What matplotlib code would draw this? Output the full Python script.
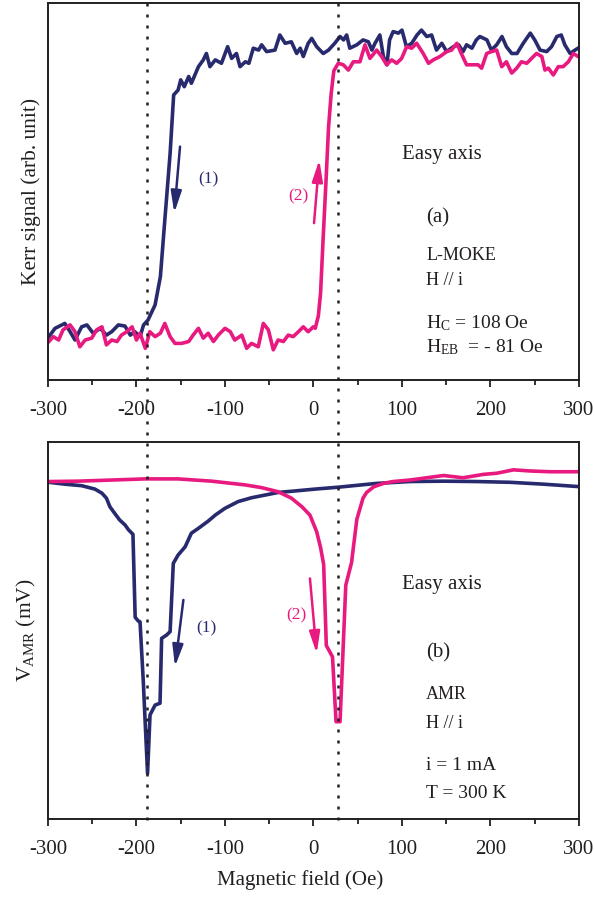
import matplotlib
matplotlib.use('Agg')
import matplotlib.pyplot as plt
from matplotlib.lines import Line2D
from matplotlib.transforms import blended_transform_factory
from matplotlib.ticker import MultipleLocator

plt.rcParams['font.family'] = ['Liberation Serif', 'DejaVu Serif']
plt.rcParams['mathtext.fontset'] = 'custom'
plt.rcParams['mathtext.rm'] = 'Liberation Serif'
plt.rcParams['mathtext.it'] = 'Liberation Serif:italic'

# ---------------- data ----------------
# (a) L-MOKE, branch (1) decreasing field
kerr1_H = [-299, -292, -281, -275, -269.5, -262, -256, -249, -241, -234, -228, -220.5, -213, -207, -202,
           -196, -192, -187, -179, -173, -168, -162, -158, -153, -150, -146, -141, -138, -130, -124.5,
           -121, -117, -111, -104, -97, -92.5, -87, -83, -77, -73, -68, -62, -58.6, -53, -43.5, -38, -32,
           -25, -19, -15, -11.5, -6, -2, 3.6, 11, 17, 24, 30, 34, 37.5, 41, 49, 56, 62, 66, 69.5, 75, 79,
           83, 86, 90, 96, 100, 105, 111, 117, 122, 128, 133.5, 139, 145, 150.5, 158, 164, 169, 173, 179,
           184, 188, 196, 201, 207, 213, 218, 224, 230, 237, 245, 250, 256, 263.5, 269, 275, 280, 284, 290,
           295.5, 299]
kerr1 = [0.115, 0.137, 0.150, 0.128, 0.106, 0.141, 0.146, 0.124, 0.137, 0.119, 0.128, 0.146, 0.143, 0.119,
         0.128, 0.115, 0.146, 0.159, 0.199, 0.274, 0.424, 0.601, 0.756, 0.769, 0.796, 0.778, 0.805, 0.787,
         0.831, 0.849, 0.866, 0.831, 0.849, 0.840, 0.884, 0.853, 0.866, 0.831, 0.844, 0.840, 0.880, 0.875,
         0.889, 0.871, 0.875, 0.915, 0.893, 0.897, 0.866, 0.880, 0.858, 0.893, 0.906, 0.884, 0.866, 0.875,
         0.893, 0.911, 0.902, 0.915, 0.880, 0.889, 0.902, 0.897, 0.875, 0.893, 0.915, 0.858, 0.836, 0.902,
         0.924, 0.920, 0.928, 0.884, 0.893, 0.915, 0.928, 0.911, 0.915, 0.875, 0.893, 0.871, 0.884, 0.889,
         0.871, 0.889, 0.880, 0.902, 0.911, 0.902, 0.875, 0.889, 0.911, 0.884, 0.866, 0.866, 0.893, 0.920,
         0.902, 0.875, 0.871, 0.884, 0.911, 0.915, 0.889, 0.866, 0.875, 0.880]

# (a) L-MOKE, branch (2) increasing field
kerr2_H = [-299, -294, -288, -283, -275, -269.5, -264, -258, -250.6, -245, -239, -234, -228, -222, -217,
           -211, -205, -200, -196, -190, -185, -179, -173, -168, -162, -156.5, -149, -141, -136, -130,
           -124.5, -119, -113, -107.6, -100, -94, -89, -81, -75.5, -70, -62.4, -56.7, -51, -45.4, -40,
           -34, -28.5, -23, -17, -11.5, -6, -0.2, 2, 5.5, 8, 11, 14, 17, 20, 23, 28, 33.7, 39.4, 45, 52.5,
           58.2, 63.8, 71.4, 77, 82.7, 88.3, 94, 99.6, 105.3, 110.9, 116.6, 124, 130, 135.4, 143, 150.5,
           156, 162, 167, 173, 180.6, 186, 190, 195.7, 201, 207, 212.7, 218, 224, 229.6, 235, 241, 246.5,
           252, 258, 261.6, 265.4, 271, 276.6, 282, 288, 293.6, 299]
kerr2 = [0.102, 0.115, 0.106, 0.133, 0.146, 0.128, 0.088, 0.106, 0.111, 0.133, 0.141, 0.093, 0.106, 0.102,
         0.119, 0.128, 0.141, 0.106, 0.124, 0.084, 0.128, 0.115, 0.124, 0.150, 0.115, 0.097, 0.097, 0.102,
         0.119, 0.137, 0.111, 0.124, 0.102, 0.119, 0.137, 0.128, 0.106, 0.119, 0.084, 0.097, 0.088, 0.150,
         0.133, 0.080, 0.106, 0.102, 0.119, 0.115, 0.128, 0.141, 0.128, 0.141, 0.137, 0.17, 0.23, 0.38,
         0.52, 0.67, 0.76, 0.82, 0.840, 0.836, 0.822, 0.844, 0.844, 0.889, 0.853, 0.875, 0.858, 0.836,
         0.849, 0.840, 0.853, 0.884, 0.880, 0.893, 0.866, 0.840, 0.849, 0.858, 0.871, 0.875, 0.893, 0.866,
         0.836, 0.836, 0.836, 0.827, 0.866, 0.871, 0.875, 0.831, 0.844, 0.814, 0.827, 0.844, 0.840, 0.853,
         0.866, 0.858, 0.822, 0.827, 0.809, 0.831, 0.831, 0.844, 0.866, 0.858]

# (b) AMR, branch (1)
amr1_H = [-299, -281, -262, -247, -239, -234, -230, -226, -219, -213, -209, -204, -201.5, -198, -196,
          -192.3, -190.4, -187.5, -184.7, -179, -173.4, -171.6, -165.9, -162, -158.4, -153, -145, -138,
          -130, -119, -111, -100, -85, -70, -55, -40, -21, 2, 28, 71, 109, 147, 184, 222, 260, 297]
amr1 = [0.893, 0.888, 0.884, 0.875, 0.864, 0.851, 0.828, 0.815, 0.793, 0.780, 0.767, 0.755, 0.535, 0.525,
        0.523, 0.364, 0.267, 0.121, 0.276, 0.302, 0.307, 0.479, 0.488, 0.497, 0.678, 0.700, 0.722, 0.758,
        0.771, 0.790, 0.806, 0.824, 0.842, 0.852, 0.859, 0.866, 0.870, 0.875, 0.880, 0.890, 0.895, 0.896,
        0.895, 0.893, 0.888, 0.882]

# (b) AMR, branch (2)
amr2_H = [-299, -266, -228, -190, -153, -115, -77, -59, -40, -25, -13, -4, 3.6, 8, 11.5, 14.5, 21.5, 25.5,
          30, 36.5, 43, 49, 56, 60, 68, 79, 90, 109, 128, 147, 169, 192, 207, 226, 245, 267, 299]
amr2 = [0.895, 0.896, 0.899, 0.902, 0.902, 0.896, 0.886, 0.879, 0.868, 0.851, 0.828, 0.806, 0.762, 0.72,
        0.675, 0.46, 0.43, 0.258, 0.258, 0.62, 0.68, 0.795, 0.851, 0.866, 0.881, 0.890, 0.895, 0.899,
        0.905, 0.911, 0.905, 0.914, 0.917, 0.926, 0.923, 0.921, 0.921]

x_ticks = [-300, -200, -100, 0, 100, 200, 300]
x_ticklabels = ['-300', '-200', '-100', '0', '100', '200', '300']
H_marks = [-188, 28]   # dotted guide lines

# ---------------- style ----------------
NAVY = '#282a6e'
PINK = '#e8197f'
TXT = '#231f20'
LW = 2.6

fig = plt.figure(figsize=(5.94, 8.97), dpi=100)
ax1 = fig.add_axes([0.0808, 0.5764, 0.8939, 0.4203])
ax2 = fig.add_axes([0.0808, 0.0870, 0.8939, 0.4203])

for ax in (ax1, ax2):
    ax.set_xlim(-300, 300)
    ax.set_ylim(0, 1)
    ax.set_yticks([])
    ax.set_xticks(x_ticks)
    ax.set_xticklabels(x_ticklabels)
    ax.xaxis.set_minor_locator(MultipleLocator(50))
    ax.tick_params(axis='x', which='major', direction='out', length=5, width=1.3,
                   labelsize=15, pad=10, colors=TXT)
    ax.tick_params(axis='x', which='minor', direction='out', length=3.5, width=1.3, colors=TXT)
    for s in ax.spines.values():
        s.set_linewidth(1.4)
        s.set_color(TXT)

ax1.plot(kerr1_H, kerr1, color=NAVY, lw=LW, solid_joinstyle='round')
ax1.plot(kerr2_H, kerr2, color=PINK, lw=LW, solid_joinstyle='round')
ax2.plot(amr1_H, amr1, color=NAVY, lw=LW, solid_joinstyle='round')
ax2.plot(amr2_H, amr2, color=PINK, lw=LW, solid_joinstyle='round')

ax1.set_ylabel('Kerr signal (arb. unit)', fontsize=15.5, color=TXT)
ax1.yaxis.set_label_coords(-0.014, 0.5)
ax2.set_ylabel(r'V$_{\mathregular{AMR}}$ (mV)', fontsize=15.5, color=TXT)
ax2.yaxis.set_label_coords(-0.018, 0.5)
ax2.set_xlabel('Magnetic field (Oe)', fontsize=15, color=TXT)
ax2.xaxis.set_label_coords(0.475, -0.135)

arrow_kw = dict(arrowstyle='-|>,head_length=1.3,head_width=0.32', lw=1.8,
                mutation_scale=10, shrinkA=0, shrinkB=0)
# arrows & branch labels (a)
ax1.annotate('', xy=(-157.3, 0.443), xytext=(-150.8, 0.619),
             arrowprops=dict(color=NAVY, **arrow_kw))
ax1.text(-130, 0.532, '(1)', color=NAVY, fontsize=12.5, ha='left', va='center')
ax1.annotate('', xy=(6.6, 0.584), xytext=(0.6, 0.416),
             arrowprops=dict(color=PINK, **arrow_kw))
ax1.text(-6, 0.486, '(2)', color=PINK, fontsize=12.5, ha='right', va='center')
# arrows & branch labels (b)
ax2.annotate('', xy=(-156.5, 0.404), xytext=(-147, 0.581),
             arrowprops=dict(color=NAVY, **arrow_kw))
ax2.text(-132, 0.506, '(1)', color=NAVY, fontsize=12.5, ha='left', va='center')
ax2.annotate('', xy=(3.6, 0.439), xytext=(-4, 0.638),
             arrowprops=dict(color=PINK, **arrow_kw))
ax2.text(-8, 0.541, '(2)', color=PINK, fontsize=12.5, ha='right', va='center')

# text blocks
t = ax1.transAxes
ax1.text(0.666, 0.597, 'Easy axis', transform=t, fontsize=15, color=TXT, ha='left', va='center')
ax1.text(0.712, 0.429, '(a)', transform=t, fontsize=15, color=TXT, ha='left', va='center')
ax1.text(0.712, 0.329, 'L-MOKE', transform=t, fontsize=13, color=TXT, ha='left', va='center')
ax1.text(0.712, 0.265, 'H // i', transform=t, fontsize=13, color=TXT, ha='left', va='center')
ax1.text(0.712, 0.152, r'H$_{\mathregular{C}}$ = 108 Oe', transform=t, fontsize=14, color=TXT,
         ha='left', va='center')
ax1.text(0.712, 0.088, r'H$_{\mathregular{EB}}$  = - 81 Oe', transform=t, fontsize=14, color=TXT,
         ha='left', va='center')

t2 = ax2.transAxes
ax2.text(0.666, 0.621, 'Easy axis', transform=t2, fontsize=15, color=TXT, ha='left', va='center')
ax2.text(0.712, 0.44, '(b)', transform=t2, fontsize=15, color=TXT, ha='left', va='center')
ax2.text(0.712, 0.329, 'AMR', transform=t2, fontsize=13, color=TXT, ha='left', va='center')
ax2.text(0.712, 0.254, 'H // i', transform=t2, fontsize=13, color=TXT, ha='left', va='center')
ax2.text(0.712, 0.143, 'i = 1 mA', transform=t2, fontsize=14, color=TXT, ha='left', va='center')
ax2.text(0.712, 0.068, 'T = 300 K', transform=t2, fontsize=14, color=TXT, ha='left', va='center')

# dotted guide lines spanning both panels
bt = blended_transform_factory(ax2.transData, fig.transFigure)
for h in H_marks:
    fig.add_artist(Line2D([h, h], [1 - 3 / 897, 1 - 828 / 897], transform=bt, color=TXT,
                          lw=1.8, linestyle=(0, (1.2, 3.2)), zorder=10))

fig.savefig('out.png', dpi=100)
